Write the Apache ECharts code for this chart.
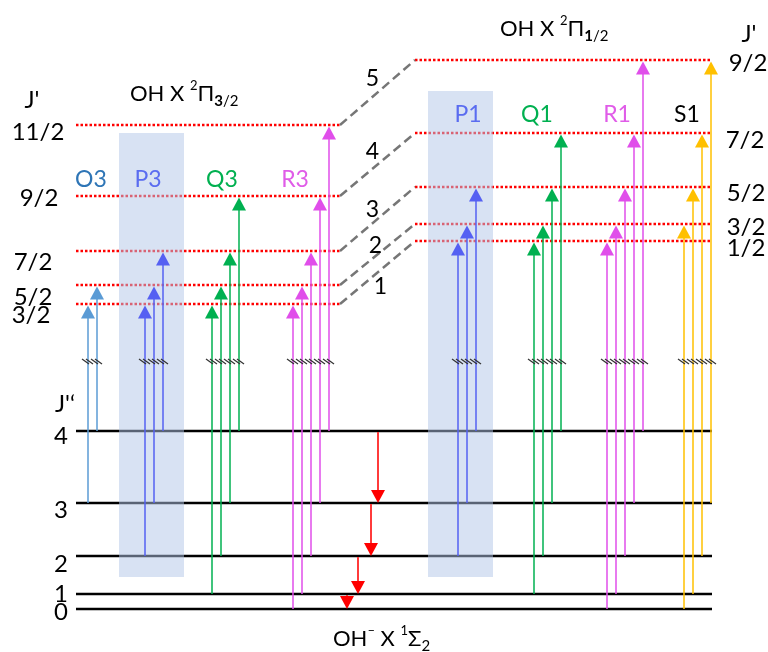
<!DOCTYPE html>
<html><head><meta charset="utf-8">
<script src="https://cdn.jsdelivr.net/npm/echarts@6/dist/echarts.min.js"></script>
<style>html,body{margin:0;padding:0;background:#fff}#c{width:768px;height:652px}</style>
</head><body><div id="c"></div>
<script>
// ---------------- DATA ----------------
// Lower state OH- X 1Σ : rotational levels J'' and their (diagram) energies
const lowerJ = [0, 1, 2, 3, 4];
const lowerE = [0, 15, 53, 106, 178];
// Upper state OH X 2Π3/2 : J' levels and energies
const upper32J = ['3/2', '5/2', '7/2', '9/2', '11/2'];
const upper32E = [305, 324, 358, 413, 484];
// Upper state OH X 2Π1/2 : J' levels and energies
const upper12J = ['1/2', '3/2', '5/2', '7/2', '9/2'];
const upper12E = [368, 385, 422, 476, 549];
// Branches: name, manifold, lower J'' and upper J' of each transition
const branchNames = ['O3', 'P3', 'Q3', 'R3', 'P1', 'Q1', 'R1', 'S1'];
const branchManifold = ['3/2', '3/2', '3/2', '3/2', '1/2', '1/2', '1/2', '1/2'];
const branchLower = [[3, 4], [2, 3, 4], [1, 2, 3, 4], [0, 1, 2, 3, 4], [2, 3, 4], [1, 2, 3, 4], [0, 1, 2, 3, 4], [0, 1, 2, 3]];
const branchUpper = [
  ['3/2', '5/2'], ['3/2', '5/2', '7/2'], ['3/2', '5/2', '7/2', '9/2'], ['3/2', '5/2', '7/2', '9/2', '11/2'],
  ['1/2', '3/2', '5/2'], ['1/2', '3/2', '5/2', '7/2'], ['1/2', '3/2', '5/2', '7/2', '9/2'], ['3/2', '5/2', '7/2', '9/2']
];
// Rotational cascade in the anion (J'' -> J'')
const cascadeFrom = [4, 3, 2, 1];
const cascadeTo = [3, 2, 1, 0];
// Correlation of 2Π3/2 levels with 2Π1/2 levels (numbered connectors)
const connectorLabels = ['1', '2', '3', '4', '5'];
const breakEnergy = 247;

// ---------------- LAYOUT / STYLE ----------------
const FONT = 'Lato, "Open Sans", sans-serif';
const branchX0 = [88, 145, 212, 293, 458, 534, 607, 684];
const branchStep = 9;
const branchArrowColor = ['#5B9BD5', '#5560F2', '#00B050', '#E04EEA', '#5560F2', '#00B050', '#E04EEA', '#FFC000'];
const branchLabelColor = ['#2E75B6', '#5A6CF0', '#00B050', '#E05CE8', '#5A6CF0', '#00B050', '#E05CE8', '#000000'];
const branchLabelPos = [[91, 180], [148, 180], [222, 180], [295, 180], [468, 115], [537, 115], [617, 115], [687, 115]];
const cascadeX = [378, 371, 358, 347];
const lowerLineX = [76, 712];
const left32X = [76, 340];
const right12X = [415, 712];
const boxes = [[119, 184, 476, 32], [428, 493, 518, 32]]; // x1,x2,eTop,eBottom
const leftLabelX = [31, 33, 33, 39, 38], leftLabelDy = [11, 12, 11, 2, 7];
const rightLabelX = [746, 746, 746, 745, 748], rightLabelDy = [7, 3, 6, 7, 3];
const lowerLabelDy = [3, 0, 8, 7, 5];
const connLabelOff = [[3, 14.5], [-2, -8.5], [-5, -9], [-5, -12.5], [-5, -13.5]];

// ---------------- BUILD ----------------
const levelData = [];
lowerE.forEach(e => levelData.push([lowerLineX[0], lowerLineX[1], e, 0]));
upper32E.forEach(e => levelData.push([left32X[0], left32X[1], e, 1]));
upper12E.forEach(e => levelData.push([right12X[0], right12X[1], e, 1]));

const connData = upper32E.map((e, i) => [left32X[1], e, right12X[0], upper12E[i]]);

const arrowData = [];
branchNames.forEach((nm, b) => {
  const levJ = branchManifold[b] === '3/2' ? upper32J : upper12J;
  const levE = branchManifold[b] === '3/2' ? upper32E : upper12E;
  branchLower[b].forEach((jl, i) => {
    const ju = branchUpper[b][i];
    arrowData.push([branchX0[b] + i * branchStep, lowerE[lowerJ.indexOf(jl)], levE[levJ.indexOf(ju)], b]);
  });
});
const cascadeData = cascadeFrom.map((j, i) => [cascadeX[i], lowerE[lowerJ.indexOf(j)], lowerE[lowerJ.indexOf(cascadeTo[i])]]);

function seg(a, b, style) { return { type: 'line', shape: { x1: a[0], y1: a[1], x2: b[0], y2: b[1] }, style: style }; }

const chart = echarts.init(document.getElementById('c'), null, { renderer: 'canvas' });
const option = {
  animation: false,
  backgroundColor: '#fff',
  grid: { left: 0, right: 0, top: 0, bottom: 0 },
  xAxis: { type: 'value', min: 0, max: 768, show: false },
  yAxis: { type: 'value', min: -43, max: 609, show: false },
  series: [
    { // energy levels
      type: 'custom', coordinateSystem: 'cartesian2d', silent: true, z: 2, data: levelData,
      renderItem: (p, api) => {
        const a = api.coord([api.value(0), api.value(2)]), b = api.coord([api.value(1), api.value(2)]);
        return api.value(3) === 0
          ? seg(a, b, { stroke: '#000', lineWidth: 2.5 })
          : seg(a, b, { stroke: '#FF0000', lineWidth: 2.5, lineDash: [2.5, 2] });
      }
    },
    { // correlation connectors
      type: 'custom', coordinateSystem: 'cartesian2d', silent: true, z: 2, data: connData,
      renderItem: (p, api) => {
        const a = api.coord([api.value(0), api.value(1)]), b = api.coord([api.value(2), api.value(3)]);
        return seg(a, b, { stroke: '#767676', lineWidth: 2.5, lineDash: [9, 5] });
      }
    },
    { // shaded boxes (semi-transparent, over the levels, under the arrows)
      type: 'custom', coordinateSystem: 'cartesian2d', silent: true, z: 3, data: boxes,
      renderItem: (p, api) => {
        const a = api.coord([api.value(0), api.value(2)]), b = api.coord([api.value(1), api.value(3)]);
        return { type: 'rect', shape: { x: a[0], y: a[1], width: b[0] - a[0], height: b[1] - a[1] }, style: { fill: 'rgba(178,198,232,0.5)' } };
      }
    },
    { // transitions
      type: 'custom', coordinateSystem: 'cartesian2d', silent: true, z: 4, data: arrowData,
      renderItem: (p, api) => {
        const x = api.value(0), b = api.value(3);
        const p0 = api.coord([x, api.value(1)]), p1 = api.coord([x, api.value(2)]);
        const pb = api.coord([x, breakEnergy]);
        const c = branchArrowColor[b];
        const tip = p1[1] + 1.5;
        const children = [
          seg([p0[0], p0[1]], [p1[0], tip + 12], { stroke: c, lineWidth: 1.5 }),
          { type: 'polygon', shape: { points: [[p1[0], tip], [p1[0] - 7, tip + 13], [p1[0] + 7, tip + 13]] }, style: { fill: c } },
          seg([pb[0] - 6, pb[1] - 3], [pb[0] + 1, pb[1] + 2], { stroke: '#333', lineWidth: 1.2 }),
          seg([pb[0] - 2, pb[1] - 3], [pb[0] + 5, pb[1] + 2], { stroke: '#333', lineWidth: 1.2 })
        ];
        return { type: 'group', children: children };
      }
    },
    { // cascade
      type: 'custom', coordinateSystem: 'cartesian2d', silent: true, z: 4, data: cascadeData,
      renderItem: (p, api) => {
        const x = api.value(0);
        const a = api.coord([x, api.value(1)]), b = api.coord([x, api.value(2)]);
        return { type: 'group', children: [
          seg([a[0], a[1] + 1], [b[0], b[1] - 12], { stroke: '#FF3B3B', lineWidth: 2 }),
          { type: 'polygon', shape: { points: [[b[0], b[1]], [b[0] - 7, b[1] - 13], [b[0] + 7, b[1] - 13]] }, style: { fill: '#FF0000' } }
        ] };
      }
    }
  ]
};
chart.setOption(option);

const toPx = (x, e) => chart.convertToPixel({ gridIndex: 0 }, [x, e]);
const g = [];
function txt(x, y, text, opts) {
  g.push({ type: 'text', x: x, y: y, z: 100, silent: true,
    style: Object.assign({ text: text, fontFamily: FONT, fontSize: 24, fill: '#000', align: 'center', verticalAlign: 'middle' }, opts || {}) });
}
upper32J.forEach((j, i) => { const p = toPx(0, upper32E[i]); txt(leftLabelX[i], p[1] + leftLabelDy[i], j); });
upper12J.forEach((j, i) => { const p = toPx(0, upper12E[i]); txt(rightLabelX[i], p[1] + rightLabelDy[i], j); });
lowerJ.forEach((j, i) => { const p = toPx(0, lowerE[i]); txt(61, p[1] + lowerLabelDy[i], String(j)); });
txt(32, 100, "J'");
txt(749, 34, "J'");
txt(65, 404, "J'\u2018");
branchNames.forEach((nm, b) => txt(branchLabelPos[b][0], branchLabelPos[b][1], nm, { fill: branchLabelColor[b], fontSize: 23 }));
connData.forEach((c, i) => {
  const a = toPx(c[0], c[1]), b = toPx(c[2], c[3]);
  txt((a[0] + b[0]) / 2 + connLabelOff[i][0], (a[1] + b[1]) / 2 + connLabelOff[i][1], connectorLabels[i], { fontSize: 23 });
});
const rich = {
  n: { fontSize: 22, lineHeight: 30, fontFamily: FONT, fill: '#000' },
  sup: { fontSize: 13, lineHeight: 15, verticalAlign: 'top', fontFamily: FONT, fill: '#000' },
  sb: { fontSize: 15, lineHeight: 15, verticalAlign: 'bottom', fontWeight: 'bold', fontFamily: FONT, fill: '#000' },
  s: { fontSize: 15, lineHeight: 15, verticalAlign: 'bottom', fontFamily: FONT, fill: '#000' }
};
function title(x, y, t) {
  g.push({ type: 'text', x: x, y: y, z: 100, silent: true, style: { text: t, rich: rich, align: 'left', verticalAlign: 'middle' } });
}
title(130, 94, '{n|OH X }{sup|2}{n|\u03A0}{sb|3}{s|/2}');
title(500, 29, '{n|OH X }{sup|2}{n|\u03A0}{sb|1}{s|/2}');
title(333, 639, '{n|OH}{sup|\u2013}{n| X }{sup|1}{n|\u03A3}{s|2}');
chart.setOption({ graphic: g });
</script>
</body></html>
